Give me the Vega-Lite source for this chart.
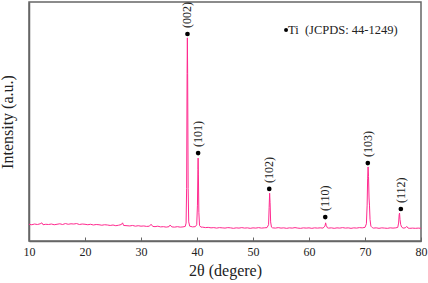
{
  "$schema": "https://vega.github.io/schema/vega-lite/v6.json",
  "width": 392,
  "height": 239,
  "autosize": {"type": "none"},
  "padding": {"left": 29, "top": 2, "right": 7, "bottom": 42},
  "background": "white",
  "config": {
    "view": {"stroke": "#666666", "strokeWidth": 1.5},
    "font": "Liberation Serif",
    "axis": {"grid": false, "domainColor": "#666666", "domainWidth": 1.5, "tickColor": "#666666", "labelFont": "Liberation Serif", "titleFont": "Liberation Serif", "labelColor": "#222", "titleColor": "#222", "titleFontWeight": "normal"}
  },
  "datasets": {
    "xrd": [
      {"t": 10, "i": 7.0}, {"t": 10.5, "i": 6.8}, {"t": 11, "i": 7.1}, {"t": 11.5, "i": 6.9}, {"t": 12, "i": 7.2}, {"t": 12.3, "i": 7.6}, {"t": 12.5, "i": 6.8}, {"t": 13, "i": 7.0}, {"t": 13.5, "i": 6.9}, {"t": 14, "i": 7.1}, {"t": 14.5, "i": 6.8}, {"t": 15, "i": 7.0}, {"t": 15.5, "i": 7.2}, {"t": 16, "i": 6.9}, {"t": 16.5, "i": 7.3}, {"t": 17, "i": 7.0}, {"t": 17.5, "i": 7.2}, {"t": 18, "i": 7.1}, {"t": 18.5, "i": 7.3}, {"t": 19, "i": 6.9}, {"t": 19.5, "i": 7.1}, {"t": 20, "i": 7.0}, {"t": 20.5, "i": 6.8}, {"t": 21, "i": 7.0}, {"t": 21.5, "i": 6.7}, {"t": 22, "i": 6.9}, {"t": 22.5, "i": 6.8}, {"t": 23, "i": 6.6}, {"t": 23.5, "i": 6.8}, {"t": 24, "i": 6.7}, {"t": 24.5, "i": 6.5}, {"t": 25, "i": 6.7}, {"t": 25.5, "i": 6.4}, {"t": 26, "i": 6.6}, {"t": 26.5, "i": 6.9}, {"t": 26.7, "i": 7.6}, {"t": 26.9, "i": 6.5}, {"t": 27.5, "i": 6.4}, {"t": 28, "i": 6.3}, {"t": 28.5, "i": 6.5}, {"t": 29, "i": 6.2}, {"t": 29.5, "i": 6.4}, {"t": 30, "i": 6.2}, {"t": 30.5, "i": 6.3}, {"t": 31, "i": 6.1}, {"t": 31.5, "i": 6.2}, {"t": 31.8, "i": 7.0}, {"t": 32.1, "i": 6.1}, {"t": 32.5, "i": 6.0}, {"t": 33, "i": 6.2}, {"t": 33.5, "i": 5.9}, {"t": 34, "i": 6.0}, {"t": 34.5, "i": 5.8}, {"t": 35, "i": 6.0}, {"t": 35.2, "i": 6.7}, {"t": 35.5, "i": 5.9}, {"t": 36, "i": 5.8}, {"t": 36.5, "i": 6.0}, {"t": 37, "i": 5.8}, {"t": 37.5, "i": 5.9}, {"t": 37.9, "i": 6.1},
      {"t": 38.05, "i": 7.5}, {"t": 38.15, "i": 22}, {"t": 38.23, "i": 70}, {"t": 38.28, "i": 85}, {"t": 38.33, "i": 70}, {"t": 38.42, "i": 22}, {"t": 38.52, "i": 8}, {"t": 38.7, "i": 6.2}, {"t": 39.2, "i": 5.9}, {"t": 39.7, "i": 6.0},
      {"t": 39.95, "i": 6.8}, {"t": 40.08, "i": 15}, {"t": 40.16, "i": 30}, {"t": 40.2, "i": 34.7}, {"t": 40.25, "i": 28}, {"t": 40.33, "i": 12}, {"t": 40.45, "i": 6.5}, {"t": 40.7, "i": 5.8},
      {"t": 41, "i": 5.8}, {"t": 41.5, "i": 5.6}, {"t": 42, "i": 5.7}, {"t": 42.5, "i": 5.5}, {"t": 43, "i": 5.6}, {"t": 43.5, "i": 5.4}, {"t": 44, "i": 5.6}, {"t": 44.5, "i": 5.5}, {"t": 45, "i": 5.4}, {"t": 45.5, "i": 5.6}, {"t": 46, "i": 5.5}, {"t": 46.5, "i": 5.3}, {"t": 47, "i": 5.5}, {"t": 47.5, "i": 5.4}, {"t": 48, "i": 5.6}, {"t": 48.5, "i": 5.4}, {"t": 49, "i": 5.5}, {"t": 49.5, "i": 5.3}, {"t": 50, "i": 5.5}, {"t": 50.5, "i": 5.4}, {"t": 51, "i": 5.6}, {"t": 51.5, "i": 5.4}, {"t": 52, "i": 5.5}, {"t": 52.5, "i": 5.6},
      {"t": 52.78, "i": 6.8}, {"t": 52.88, "i": 14}, {"t": 52.97, "i": 20}, {"t": 53.05, "i": 16}, {"t": 53.15, "i": 8}, {"t": 53.3, "i": 5.8},
      {"t": 53.5, "i": 5.5}, {"t": 54, "i": 5.4}, {"t": 54.5, "i": 5.6}, {"t": 55, "i": 5.4}, {"t": 55.5, "i": 5.5}, {"t": 56, "i": 5.3}, {"t": 56.5, "i": 5.5}, {"t": 57, "i": 5.4}, {"t": 57.5, "i": 5.6}, {"t": 58, "i": 5.4}, {"t": 58.5, "i": 5.3}, {"t": 59, "i": 5.5}, {"t": 59.5, "i": 5.4}, {"t": 60, "i": 5.5}, {"t": 60.5, "i": 5.3}, {"t": 61, "i": 5.5}, {"t": 61.5, "i": 5.4}, {"t": 62, "i": 5.5}, {"t": 62.5, "i": 5.4},
      {"t": 62.85, "i": 6.2}, {"t": 62.97, "i": 7.6}, {"t": 63.08, "i": 6.5}, {"t": 63.3, "i": 5.5},
      {"t": 63.5, "i": 5.4}, {"t": 64, "i": 5.5}, {"t": 64.5, "i": 5.3}, {"t": 65, "i": 5.5}, {"t": 65.5, "i": 5.4}, {"t": 66, "i": 5.6}, {"t": 66.5, "i": 5.4}, {"t": 67, "i": 5.5}, {"t": 67.5, "i": 5.3}, {"t": 68, "i": 5.5}, {"t": 68.5, "i": 5.4}, {"t": 69, "i": 5.6}, {"t": 69.5, "i": 5.5}, {"t": 70, "i": 5.7},
      {"t": 70.25, "i": 7.2}, {"t": 70.38, "i": 15}, {"t": 70.47, "i": 26}, {"t": 70.55, "i": 31}, {"t": 70.63, "i": 27}, {"t": 70.72, "i": 18}, {"t": 70.8, "i": 15}, {"t": 70.9, "i": 9}, {"t": 71.05, "i": 6.2}, {"t": 71.3, "i": 5.6},
      {"t": 71.5, "i": 5.4}, {"t": 72, "i": 5.5}, {"t": 72.5, "i": 5.3}, {"t": 73, "i": 5.5}, {"t": 73.5, "i": 5.4}, {"t": 74, "i": 5.3}, {"t": 74.5, "i": 5.5}, {"t": 75, "i": 5.4}, {"t": 75.5, "i": 5.5}, {"t": 75.85, "i": 5.7},
      {"t": 76.0, "i": 7.5}, {"t": 76.1, "i": 11}, {"t": 76.17, "i": 11.7}, {"t": 76.25, "i": 9}, {"t": 76.38, "i": 6.8}, {"t": 76.55, "i": 5.8},
      {"t": 76.8, "i": 5.4}, {"t": 77.2, "i": 5.5}, {"t": 77.45, "i": 6.1}, {"t": 77.7, "i": 5.4}, {"t": 78, "i": 5.3}, {"t": 78.5, "i": 5.4}, {"t": 79, "i": 5.3}, {"t": 79.5, "i": 5.4}, {"t": 80, "i": 5.3}
    ],
    "peaks": [
      {"t": 38.3, "i": 86.6, "hkl": "(002)"},
      {"t": 40.2, "i": 36.8, "hkl": "(101)"},
      {"t": 52.9, "i": 21.8, "hkl": "(102)"},
      {"t": 62.9, "i": 10.0, "hkl": "(110)"},
      {"t": 70.5, "i": 32.6, "hkl": "(103)"},
      {"t": 76.4, "i": 13.4, "hkl": "(112)"}
    ],
    "legend": [
      {"t": 55.9, "i": 88.3, "label": "Ti\u00a0\u00a0(JCPDS: 44-1249)"}
    ]
  },
  "layer": [
    {
      "data": {"name": "xrd"},
      "mark": {"type": "line", "color": "#ff2a8f", "strokeWidth": 1, "clip": true},
      "encoding": {
        "x": {"field": "t", "type": "quantitative", "scale": {"domain": [10, 80], "nice": false},
          "axis": {"values": [10, 15, 20, 25, 30, 35, 40, 45, 50, 55, 60, 65, 70, 75, 80], "labelExpr": "datum.value % 10 == 0 ? datum.label : ''", "tickSize": -4, "labelPadding": 9, "labelFontSize": 12, "title": "2θ (degere)", "titleFontSize": 16, "titlePadding": 5, "labelFlush": false}},
        "y": {"field": "i", "type": "quantitative", "scale": {"domain": [0, 100], "nice": false},
          "axis": {"labels": false, "ticks": false, "title": "Intensity (a.u.)", "titleFontSize": 16, "titlePadding": 14}}
      }
    },
    {
      "data": {"name": "peaks"},
      "mark": {"type": "point", "filled": true, "color": "black", "size": 22, "opacity": 1},
      "encoding": {
        "x": {"field": "t", "type": "quantitative"},
        "y": {"field": "i", "type": "quantitative"}
      }
    },
    {
      "data": {"name": "peaks"},
      "mark": {"type": "text", "angle": 270, "align": "left", "baseline": "middle", "dx": 6, "fontSize": 12, "color": "#222"},
      "encoding": {
        "x": {"field": "t", "type": "quantitative"},
        "y": {"field": "i", "type": "quantitative"},
        "text": {"field": "hkl"}
      }
    },
    {
      "data": {"name": "legend"},
      "mark": {"type": "point", "filled": true, "color": "black", "size": 16, "opacity": 1},
      "encoding": {
        "x": {"field": "t", "type": "quantitative"},
        "y": {"field": "i", "type": "quantitative"}
      }
    },
    {
      "data": {"name": "legend"},
      "mark": {"type": "text", "align": "left", "baseline": "middle", "dx": 2, "fontSize": 12.5, "color": "#222"},
      "encoding": {
        "x": {"field": "t", "type": "quantitative"},
        "y": {"field": "i", "type": "quantitative"},
        "text": {"field": "label"}
      }
    }
  ]
}
